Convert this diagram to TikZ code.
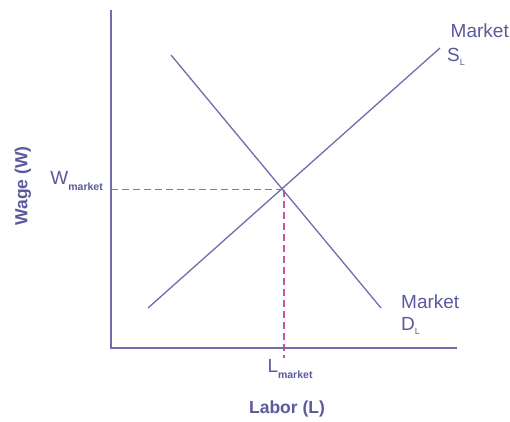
\documentclass[tikz,border=0pt]{standalone}
\usepackage{fontspec}
\setmainfont{Liberation Sans}
\definecolor{axiscol}{HTML}{6E6EAE}
\definecolor{txtcol}{HTML}{5A5A9C}
\definecolor{dashcol}{HTML}{CC5599}
\begin{document}
\begin{tikzpicture}[x=1pt,y=-1pt,
  axis/.style={draw=axiscol,line width=1.3pt},
  curve/.style={draw=axiscol,line width=1.3pt},
  guide/.style={draw=dashcol,line width=1.3pt,dash pattern=on 7pt off 4pt},
  lbl/.style={text=txtcol,font=\fontsize{19}{21}\selectfont,inner sep=0pt},
  axlbl/.style={text=txtcol,font=\bfseries\fontsize{17.5}{19}\selectfont,inner sep=0pt}]
\useasboundingbox[fill=white] (0,0) rectangle (510,421);
\coordinate (top) at (111,10);
\coordinate (origin) at (111,348);
\coordinate (right) at (457,348);
\coordinate (s1) at (148,308);
\coordinate (s2) at (440,48);
\coordinate (d1) at (171,55);
\coordinate (d2) at (381,308);
\coordinate (eq) at (284,189.5);
\coordinate (wy) at (111,189.5);
\coordinate (tick) at (284,358);
\draw[guide] (wy) -- (eq);
\draw[guide] (eq) -- (tick);
\draw[axis] (top) -- (origin) -- (right);
\draw[curve] (s1) -- (s2);
\draw[curve] (d1) -- (d2);
\node[lbl,anchor=east] (mS) at (509,31) {Market};
\node[lbl,anchor=west] (S) at (447,57) {S\raisebox{-0.45ex}{\fontsize{9}{10}\selectfont L}};
\node[lbl,anchor=west] (mD) at (401,302) {Market};
\node[lbl,anchor=west] (D) at (401,326) {D\raisebox{-0.45ex}{\fontsize{9}{10}\selectfont L}};
\node[lbl,anchor=east] (W) at (103,181) {W\raisebox{-0.6ex}{\fontsize{10.5}{11}\selectfont\bfseries market}};
\node[lbl] (L) at (290,369) {L\raisebox{-0.6ex}{\fontsize{10.5}{11}\selectfont\bfseries market}};
\node[axlbl] (xl) at (287,409) {Labor (L)};
\node[axlbl,rotate=90] (yl) at (23,186) {Wage (W)};
\end{tikzpicture}
\end{document}
